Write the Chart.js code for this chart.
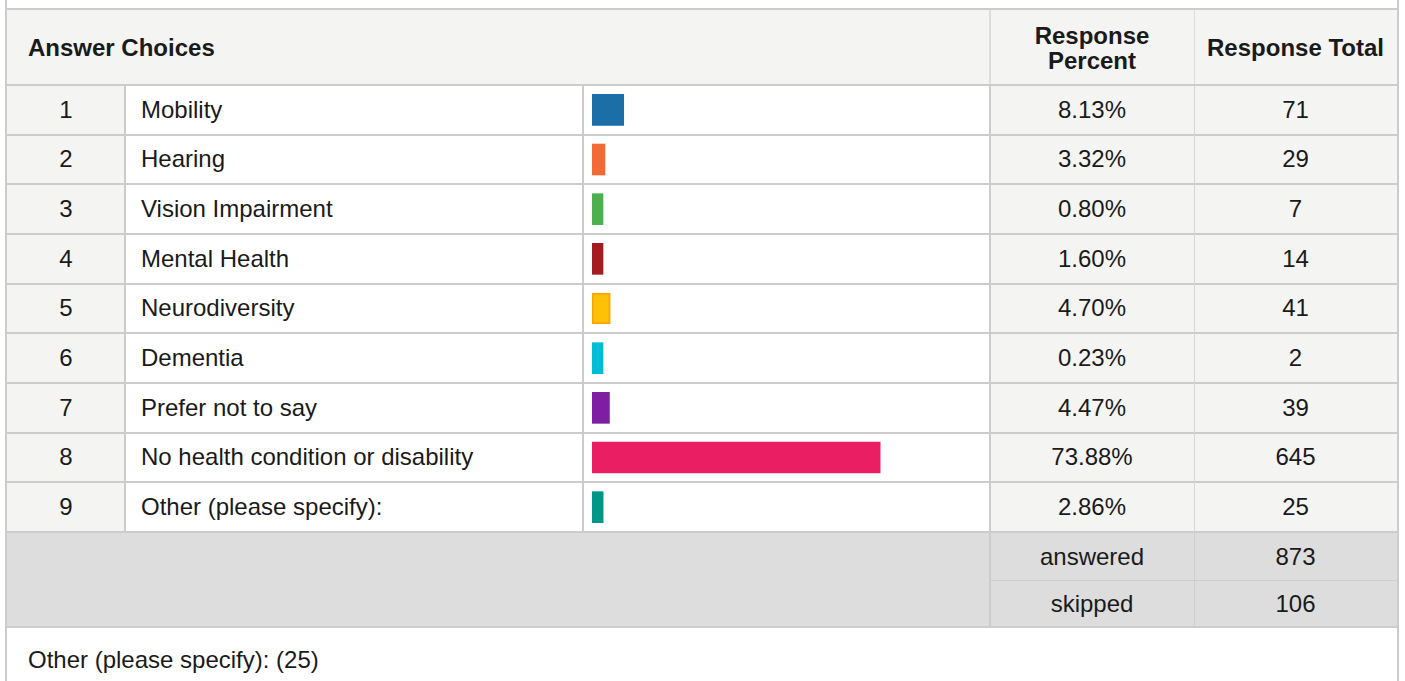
<!DOCTYPE html>
<html>
<head>
<meta charset="utf-8">
<script src="https://cdn.jsdelivr.net/npm/chart.js@4/dist/chart.umd.min.js"></script>
<style>
  html, body { margin:0; padding:0; background:#fff; }
  body { width:1405px; height:681px; overflow:hidden; position:relative;
         font-family:"Liberation Sans", Arial, sans-serif; font-size:24px; color:#1a1a1a; }
  .abs { position:absolute; box-sizing:border-box; }
  .txt { position:absolute; white-space:nowrap; display:flex; align-items:center; }
  .center { justify-content:center; text-align:center; }
  .bold { font-weight:bold; }
  #chartWrap { position:absolute; left:584px; top:85px; width:406px; height:447px; }
</style>
</head>
<body>
<div id="root"></div>
<div id="chartWrap"><canvas id="c" width="406" height="447"></canvas></div>
<script>
// ---- data ----
const categories = ["Mobility", "Hearing", "Vision Impairment", "Mental Health", "Neurodiversity",
                    "Dementia", "Prefer not to say", "No health condition or disability", "Other (please specify):"];
const percents = [8.13, 3.32, 0.80, 1.60, 4.70, 0.23, 4.47, 73.88, 2.86];
const totals = [71, 29, 7, 14, 41, 2, 39, 645, 25];
const barColors = ["#1c6fa6", "#f26a35", "#4caf50", "#a51c20", "#ffc107", "#00bcd4", "#7e1fa3", "#e91e63", "#009688"];
const headerLabels = ["Answer Choices", "Response<br>Percent", "Response Total"];
const summaryLabels = ["answered", "skipped"];
const summaryValues = [873, 106];
const otherCount = 25;

// ---- layout ----
const root = document.getElementById('root');
function box(x, y, w, h, bg) {
  const d = document.createElement('div');
  d.className = 'abs';
  d.style.left = x + 'px'; d.style.top = y + 'px';
  d.style.width = w + 'px'; d.style.height = h + 'px';
  d.style.background = bg;
  root.appendChild(d); return d;
}
function text(x, y, w, h, html, cls) {
  const d = document.createElement('div');
  d.className = 'txt ' + (cls || '');
  d.style.left = x + 'px'; d.style.top = y + 'px';
  d.style.width = w + 'px'; d.style.height = h + 'px';
  d.innerHTML = html;
  root.appendChild(d); return d;
}
const cols = [7, 125, 583, 990, 1194, 1397];
const rowTop = 85, rowBottom = 532;
const rowH = (rowBottom - rowTop) / categories.length;
const LINE = "#cccccc";

// header
box(7, 10, 1390, 75, "#f4f4f3");
// body columns backgrounds
box(cols[0], rowTop, cols[1]-cols[0], rowBottom-rowTop, "#f4f4f3");
box(cols[1], rowTop, cols[3]-cols[1], rowBottom-rowTop, "#ffffff");
box(cols[3], rowTop, cols[5]-cols[3], rowBottom-rowTop, "#f4f4f3");
// summary
box(7, rowBottom, 1390, 627-rowBottom, "#dddddd");

// horizontal lines
box(7, 8, 1390, 2, LINE);
box(7, 84, 1390, 2, LINE);
for (let i = 1; i <= categories.length; i++) {
  const y = Math.round(rowTop + i*rowH) - 1;
  box(7, y, 1390, 2, LINE);
}
box(cols[3], 580, cols[5]-cols[3], 1, LINE);
box(7, 626, 1390, 2, LINE);
// vertical lines
box(5, 0, 2, 681, LINE);
box(1397, 0, 2, 681, LINE);
box(cols[3]-1, 10, 2, 74, "#dddddd");
box(cols[4], 10, 1, 74, "#dddddd");
box(cols[1]-1, rowTop, 2, rowBottom-rowTop, LINE);
box(cols[2]-1, rowTop, 2, rowBottom-rowTop, LINE);
box(cols[3]-1, rowTop, 2, rowBottom-rowTop, LINE);
box(cols[4], rowTop, 1, rowBottom-rowTop, "#d6d6d6");
box(cols[3]-1, rowBottom, 2, 626-rowBottom, LINE);
box(cols[4], rowBottom, 1, 626-rowBottom, "#cfcfcf");

// header text
text(28, 10, 400, 75, headerLabels[0], 'bold');
text(cols[3], 10, cols[4]-cols[3], 75, headerLabels[1], 'bold center').style.lineHeight = '25px';
text(cols[4], 10, cols[5]-cols[4], 75, headerLabels[2], 'bold center');

// rows
categories.forEach((c, i) => {
  const y = rowTop + i*rowH;
  text(cols[0], y, cols[1]-cols[0], rowH, String(i+1), 'center');
  text(141, y, 430, rowH, c);
  text(cols[3], y, cols[4]-cols[3], rowH, percents[i].toFixed(2) + '%', 'center');
  text(cols[4], y, cols[5]-cols[4], rowH, String(totals[i]), 'center');
});
// summary rows
const sumTops = [532, 581], sumH = [49, 46];
summaryLabels.forEach((s, i) => {
  text(cols[3], sumTops[i], cols[4]-cols[3], sumH[i], s, 'center');
  text(cols[4], sumTops[i], cols[5]-cols[4], sumH[i], String(summaryValues[i]), 'center');
});
// footer
text(28, 640, 600, 40, 'Other (please specify): (' + otherCount + ')');

// ---- chart ----
new Chart(document.getElementById('c'), {
  type: 'bar',
  data: {
    labels: categories,
    datasets: [{
      data: percents,
      backgroundColor: barColors,
      borderColor: barColors.map((c, i) => i === 4 ? "#f9a602" : c),
      borderWidth: barColors.map((c, i) => i === 4 ? 2 : 0),
      borderSkipped: false,
      barThickness: 31,
      minBarLength: 11
    }]
  },
  options: {
    indexAxis: 'y',
    responsive: false,
    animation: false,
    devicePixelRatio: 1,
    layout: { padding: { left: 8, right: 8, top: 0, bottom: 0 } },
    plugins: { legend: { display: false }, tooltip: { enabled: false } },
    scales: {
      x: { display: false, min: 0, max: 100 },
      y: { display: false }
    }
  }
});
</script>
</body>
</html>
